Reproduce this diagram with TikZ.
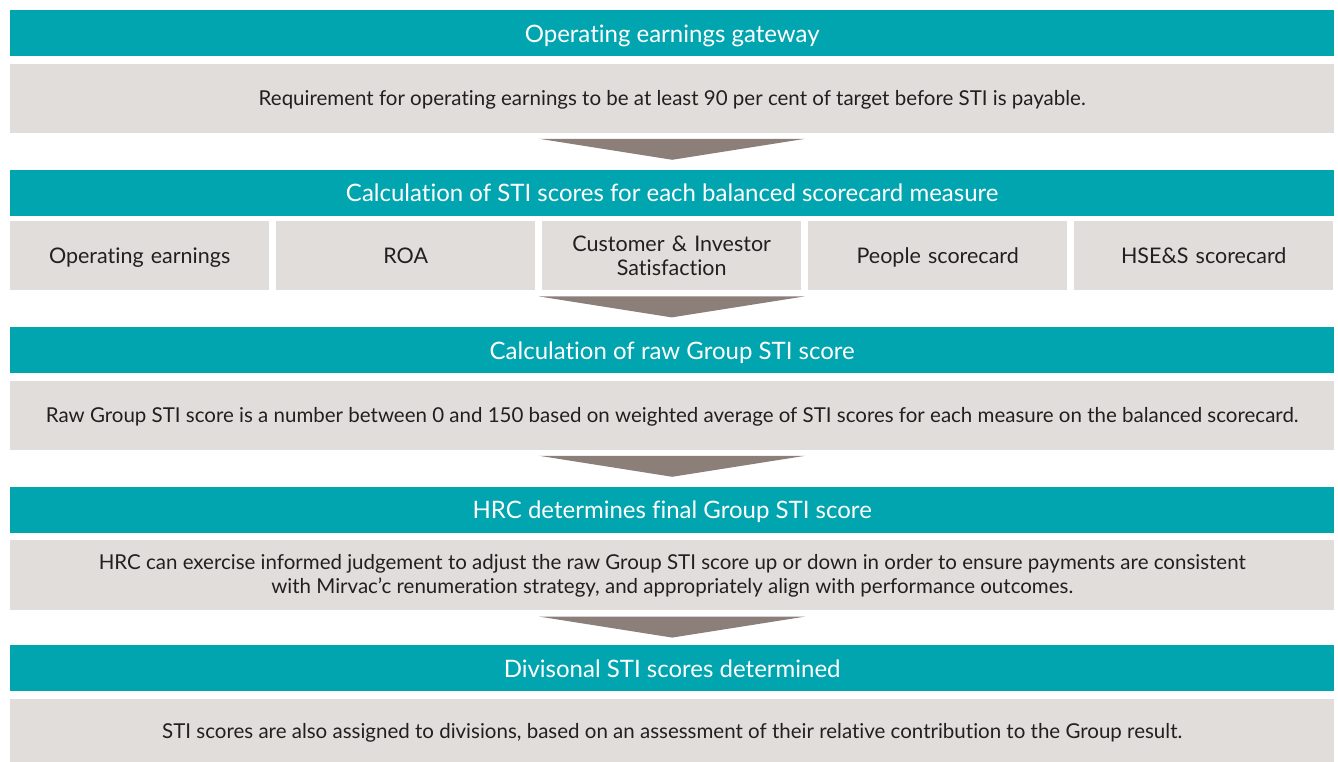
\documentclass[tikz,border=0pt]{standalone}
\usepackage{fontspec}
\setmainfont[RawFeature={-liga;-clig;-calt;-dlig}]{Lato}
\usetikzlibrary{positioning,calc}

\definecolor{stiteal}{RGB}{0,165,176}
\definecolor{stigray}{RGB}{225,221,218}
\definecolor{stiarrow}{RGB}{140,127,122}
\definecolor{stitext}{RGB}{35,31,32}

\tikzset{
  head/.style={fill=stiteal, text=white, minimum width=1324pt, minimum height=46pt,
    inner sep=0pt, text height=18pt, text depth=0pt, font=\fontsize{24}{28}\selectfont},
  body/.style={fill=stigray, text=stitext, minimum width=1324pt, minimum height=69pt,
    inner sep=0pt, align=center, font=\fontsize{20.5}{24}\selectfont},
  oneline/.style={text height=15pt, text depth=0pt},
  measure/.style={body, minimum width=259pt, text width=255pt, font=\fontsize{21.5}{24}\selectfont},
  down/.style={fill=stiarrow}
}

% grey wedge below a box
\newcommand{\wedgebelow}[1]{%
  \fill[down] ($(#1.south)+(-133,-6)$) -- ($(#1.south)+(133,-6)$) -- ($(#1.south)+(0,-27)$) -- cycle;}

\begin{document}
\begin{tikzpicture}[x=1pt,y=1pt]
\useasboundingbox (0,0) rectangle (1338,762);

\node[head, anchor=north west] (h1) at (10,752) {Operating earnings gateway};
\node[body, oneline, below=7pt of h1] (g1) {Requirement for operating earnings to be at least 90 per cent of target before STI is payable.};
\wedgebelow{g1}

\node[head, below=37pt of g1] (h2) {Calculation of STI scores for each balanced scorecard measure};
\foreach \i/\name/\txt in {0/oe/Operating earnings, 1/roa/ROA, 3/ppl/People scorecard, 4/hses/HSE\&S scorecard} {
    \node[measure, oneline, anchor=north west] (\name) at (10+266*\i,541) {\txt};
}
\node[measure, anchor=north west] (cis) at (542,541) {Customer \& Investor\\Satisfaction};
\wedgebelow{cis}

\node[head, anchor=north west] (h3) at (10,435) {Calculation of raw Group STI score};
\node[body, oneline, below=7pt of h3] (g3) {Raw Group STI score is a number between 0 and 150 based on weighted average of STI scores for each measure on the balanced scorecard.};
\wedgebelow{g3}

\node[head, below=37pt of g3] (h4) {HRC determines final Group STI score};
\node[body, below=7pt of h4, minimum height=70pt] (g4) {HRC can exercise informed judgement to adjust the raw Group STI score up or down in order to ensure payments are consistent\\with Mirvac’c renumeration strategy, and appropriately align with performance outcomes.};
\wedgebelow{g4}

\node[head, anchor=north west] (h5) at (10,117) {Divisonal STI scores determined};
\node[body, oneline, below=7pt of h5, minimum height=64pt] (g5) {STI scores are also assigned to divisions, based on an assessment of their relative contribution to the Group result.};
\end{tikzpicture}
\end{document}
